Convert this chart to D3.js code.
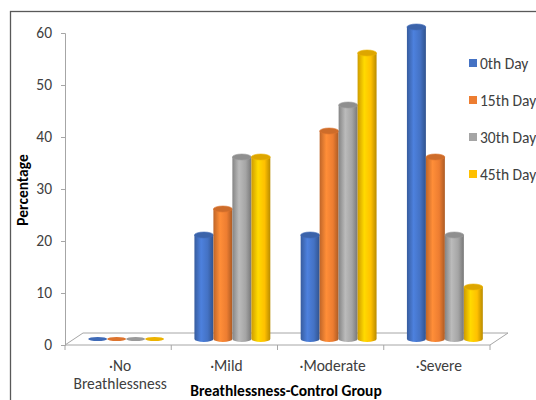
<!DOCTYPE html>
<html>
<head>
<meta charset="utf-8">
<script src="https://cdn.jsdelivr.net/npm/d3@7"></script>
<style>
  body { margin: 0; background: #fff; }
  text { font-family: Carlito, Lato, "Open Sans", sans-serif; fill: #404040; }
</style>
</head>
<body>
<div id="chart"></div>
<script>
// data
var categories = ["·No Breathlessness", "·Mild", "·Moderate", "·Severe"]
var series = ["0th Day", "15th Day", "30th Day", "45th Day"]
var day0 = [0, 20, 20, 60]
var day15 = [0, 25, 40, 35]
var day30 = [0, 35, 45, 20]
var day45 = [0, 35, 55, 10]
var yTicks = [0, 10, 20, 30, 40, 50, 60]
var colors = ["#4472C4", "#ED7D31", "#A5A5A5", "#FFC000"]

var values = [day0, day15, day30, day45]

var width = 536, height = 400
var plotLeft = 65, plotRight = 490, plotTop = 33, plotBottom = 345
var depthX = 18, depthY = -12   // floor depth
var dx = 8, dy = -6             // bars sit mid depth

var svg = d3.select("#chart").append("svg")
    .attr("width", width)
    .attr("height", height)

// outer frame
svg.append("rect")
    .attr("x", 10.5).attr("y", 11.5)
    .attr("width", 540).attr("height", 400)
    .attr("fill", "none").attr("stroke", "#595959").attr("stroke-width", 1.3)

var x0 = d3.scaleBand().domain(categories).range([plotLeft, plotRight])
var x1 = d3.scaleBand().domain(series).range([0, x0.bandwidth()]).paddingOuter(0.8)
var y = d3.scaleLinear().domain([0, 60]).range([plotBottom, plotTop])
var color = d3.scaleOrdinal().domain(series).range(colors)

// gradients for cylinder shading
var defs = svg.append("defs")
series.forEach(function (s, i) {
    var c = d3.color(colors[i])
    var g = defs.append("linearGradient").attr("id", "g" + i)
        .attr("x1", "0%").attr("x2", "100%").attr("y1", "0%").attr("y2", "0%")
    g.append("stop").attr("offset", "0%").attr("stop-color", c.darker(0.6))
    g.append("stop").attr("offset", "35%").attr("stop-color", c.brighter(0.35))
    g.append("stop").attr("offset", "70%").attr("stop-color", c)
    g.append("stop").attr("offset", "100%").attr("stop-color", c.darker(0.9))
})

// floor
svg.append("path")
    .attr("d", d3.line()([[plotLeft, plotBottom], [plotLeft + depthX, plotBottom + depthY],
        [plotRight + depthX, plotBottom + depthY], [plotRight, plotBottom]]))
    .attr("fill", "none").attr("stroke", "#a6a6a6").attr("stroke-width", 1)
svg.append("line")
    .attr("x1", plotLeft).attr("x2", plotRight).attr("y1", plotBottom).attr("y2", plotBottom)
    .attr("stroke", "#a6a6a6")

// y axis
var yAxis = svg.append("g").attr("transform", "translate(" + plotLeft + ",0)")
    .call(d3.axisLeft(y).tickValues(yTicks).tickSize(4).tickPadding(9))
yAxis.select(".domain").attr("stroke", "#a6a6a6")
yAxis.selectAll(".tick line").attr("stroke", "#a6a6a6")
yAxis.selectAll(".tick text").style("font-size", "15.5px").attr("fill", "#404040")

// x ticks at category boundaries
var bounds = categories.map(function (c) { return x0(c) }).concat([plotRight])
svg.selectAll(".xtick").data(bounds).enter().append("line")
    .attr("x1", function (d) { return d }).attr("x2", function (d) { return d })
    .attr("y1", plotBottom).attr("y2", plotBottom + 5)
    .attr("stroke", "#a6a6a6")

// category labels
categories.forEach(function (c) {
    var parts = c.split(" ")
    var cx = x0(c) + x0.bandwidth() / 2 + 2
    var t = svg.append("text")
        .attr("x", cx)
        .attr("y", 371)
        .attr("text-anchor", "middle")
        .style("font-size", "15.5px")
    parts.forEach(function (p, i) {
        t.append("tspan").attr("x", cx).attr("dy", i ? 18 : 0).text(p)
    })
})

// cylinders
var ry = 3
var bars = []
categories.forEach(function (c, ci) {
    series.forEach(function (s, si) {
        bars.push({ cat: c, s: s, si: si, v: values[si][ci] })
    })
})
var g = svg.append("g")
bars.forEach(function (d) {
    var bx = x0(d.cat) + x1(d.s) + dx
    var w = x1.bandwidth()
    var cx = bx + w / 2
    var rx = w / 2
    var base = y(0) + dy
    var topY = y(d.v) + dy
    if (d.v > 0) {
        g.append("path")
            .attr("d", "M" + bx + "," + topY + "L" + bx + "," + base +
                "A" + rx + "," + ry + " 0 0 0 " + (bx + w) + "," + base +
                "L" + (bx + w) + "," + topY + "Z")
            .attr("fill", "url(#g" + d.si + ")")
        g.append("ellipse")
            .attr("cx", cx).attr("cy", topY).attr("rx", rx).attr("ry", ry)
            .attr("fill", d3.color(color(d.s)).darker(0.4))
            .attr("stroke", d3.color(color(d.s)).darker(0.2)).attr("stroke-width", 0.6)
    } else {
        g.append("ellipse")
            .attr("cx", cx).attr("cy", base).attr("rx", rx).attr("ry", 2)
            .attr("fill", d3.color(color(d.s)).darker(0.2))
    }
})

// legend
var legend = svg.selectAll(".legend").data(series).enter().append("g")
    .attr("transform", function (d, i) { return "translate(469," + (63 + i * 37) + ")" })
legend.append("rect")
    .attr("x", 0).attr("y", -4).attr("width", 8).attr("height", 8)
    .attr("fill", function (d) { return color(d) })
legend.append("text")
    .attr("x", 11).attr("y", 5.5)
    .style("font-size", "15.5px")
    .text(function (d) { return d })

// axis titles
svg.append("text")
    .attr("transform", "translate(28,190) rotate(-90)")
    .attr("text-anchor", "middle")
    .style("font-size", "15.5px").style("font-weight", "bold")
    .style("fill", "#000")
    .text("Percentage")
svg.append("text")
    .attr("x", 286).attr("y", 396)
    .attr("text-anchor", "middle")
    .style("font-size", "15.5px").style("font-weight", "bold")
    .style("fill", "#000")
    .text("Breathlessness-Control Group")
</script>
</body>
</html>
